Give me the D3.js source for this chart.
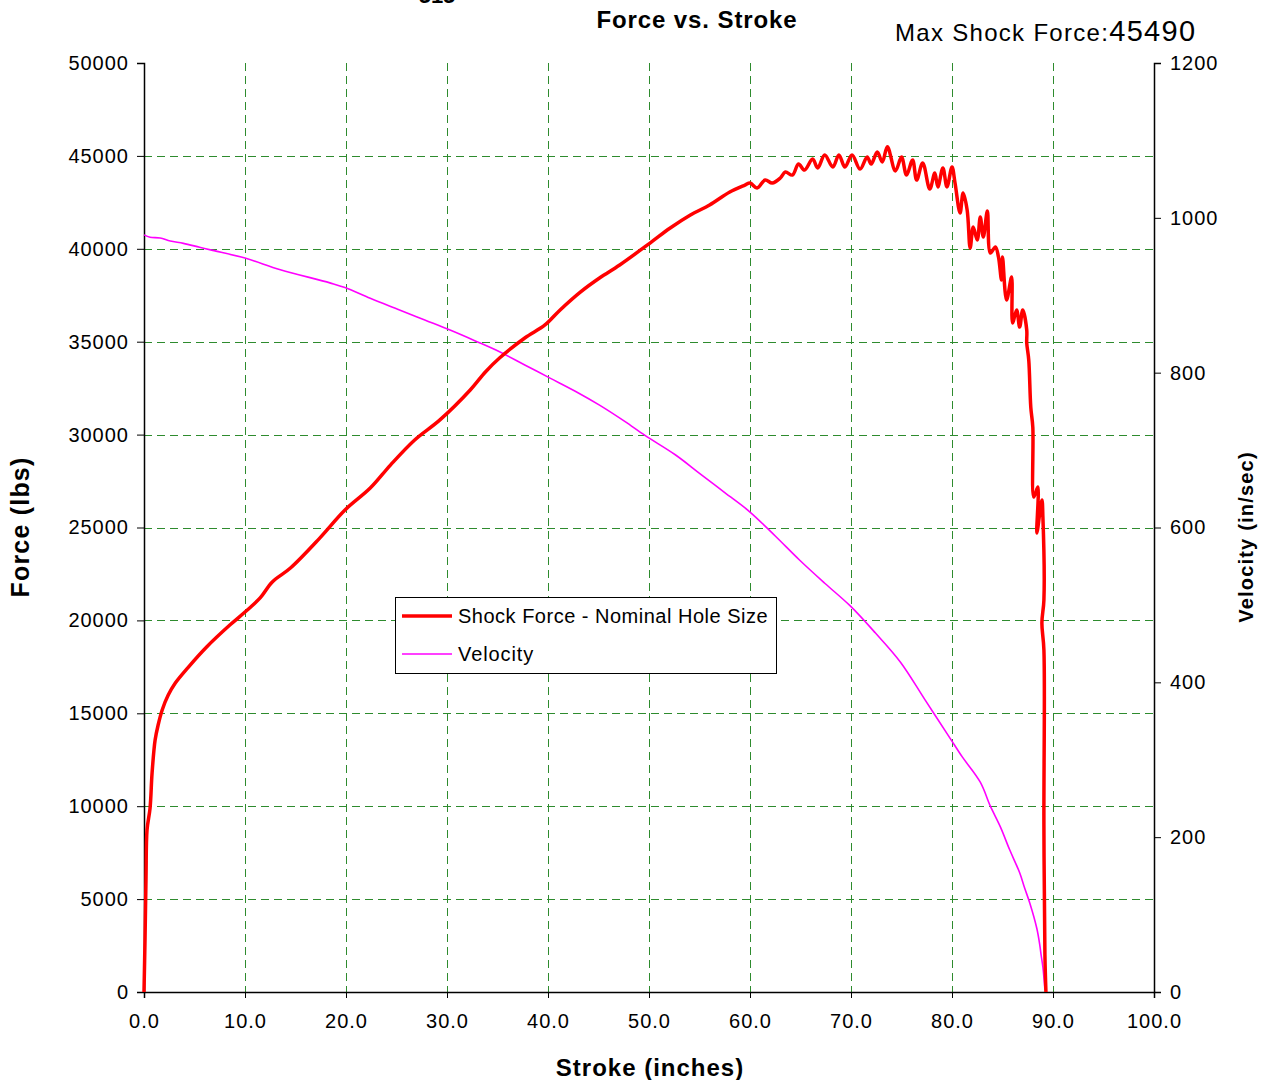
<!DOCTYPE html>
<html>
<head>
<meta charset="utf-8">
<script src="https://cdn.jsdelivr.net/npm/d3@7"></script>
<style>
  body { margin: 0; background: #fff; }
  svg { font-family: 'Liberation Sans', Arial, sans-serif; }
</style>
</head>
<body>
<div id="chart"></div>
<script>
'use strict';

// stroke (inches) / shock force (lbs)
var forceStroke = [0, 0.1, 0.2, 0.3, 0.6, 0.8, 1.1, 1.4, 1.8, 2.4, 3.1, 4.4, 6.2, 8.5, 10.0,
  11.5, 12.7, 14.5, 17.4, 19.9, 22.4, 24.4, 26.8, 29.3, 32.3, 33.8, 35.2, 37.7, 39.7, 41.2, 43.2,
  45.1, 47.1, 50.1, 52.1, 54.1, 56.0, 58.0, 59.5, 60.0, 60.7, 61.5, 62.2, 63.0, 63.5, 64.2, 64.8, 65.4, 66.2, 66.7,
  67.4, 68.2, 68.8, 69.4, 70.1, 70.9, 71.6, 72.0, 72.6, 73.1, 73.6, 74.4, 75.0, 75.5, 76.1, 76.5,
  77.1, 77.8, 78.3, 78.6, 79.1, 79.5, 80.0, 80.3, 80.8, 81.1, 81.5, 81.8, 82.1, 82.5, 82.8, 83.1,
  83.5, 83.8, 84.3, 84.6, 84.9, 85.0, 85.4, 85.9, 86.0, 86.4, 86.7, 87.0, 87.4, 87.4, 87.6, 87.8,
  88.0, 88.1, 88.5, 88.4, 88.9, 89.0, 89.1, 88.9, 89.1, 89.1, 89.2, 89.3];
var forceValues = [0, 2800, 6190, 8720, 9900, 11790, 13560, 14370, 15180, 15980, 16630, 17490, 18570, 19750, 20450,
  21210, 22070, 22820, 24430, 25940, 27120, 28360, 29710, 30790, 32400, 33370, 34120, 35200, 35900, 36710, 37670,
  38430, 39130, 40310, 41120, 41820, 42360, 43060, 43430, 43540, 43270, 43700, 43540, 43810, 44130, 43970, 44560, 44240, 44830, 44350,
  45050, 44400, 45050, 44400, 45050, 44290, 44940, 44560, 45210, 44670, 45490, 44190, 44940, 43970, 44780, 43700,
  44620, 43220, 44080, 43330, 44350, 43330, 44400, 43540, 41930, 43000, 42090, 40040, 41170, 40470, 41710, 40630,
  42030, 39770, 40100, 39560, 38320, 39560, 37240, 38480, 36010, 36710, 35790, 36710, 35630, 34930, 34010, 31480,
  30410, 26640, 27180, 24700, 26480, 25560, 21100, 19860, 18410, 9000, 2000, 0];

// stroke (inches) / velocity (in/sec)
var velStroke = [0, 0.6, 1.6, 2.6, 3.9, 5.5, 6.8, 10.0, 13.5, 18.4, 19.9, 22.4, 25.3, 27.8, 30.3, 32.8,
  35.2, 37.7, 40.2, 42.7, 45.1, 47.6, 49.6, 52.6, 55.0, 57.5, 60.0, 62.5, 64.9, 67.4, 69.9, 72.4,
  74.9, 77.3, 79.8, 81.0, 82.8, 83.8, 84.8, 85.7, 86.7, 87.2, 87.7, 88.4, 88.7, 88.8, 89.0, 89.2];
var velValues = [978, 975, 974, 970, 967, 962, 958, 948, 933, 916, 910, 896, 881, 868, 855, 841,
  827, 810, 793, 776, 758, 737, 719, 694, 670, 645, 620, 589, 558, 528, 499, 464,
  426, 378, 328, 304, 271, 240, 213, 184, 154, 134, 115, 82, 60, 50, 32, 3];

var xTicks = [0, 10, 20, 30, 40, 50, 60, 70, 80, 90, 100];
var yTicks = [0, 5000, 10000, 15000, 20000, 25000, 30000, 35000, 40000, 45000, 50000];
var y2Ticks = [0, 200, 400, 600, 800, 1000, 1200];
var maxForce = 45490;

var width = 1263, height = 1080;
var plotLeft = 144, plotRight = 1154, plotTop = 63, plotBottom = 992;

var svg = d3.select('#chart').append('svg')
  .attr('width', width)
  .attr('height', height);

var x = d3.scaleLinear().domain([0, 100]).range([plotLeft, plotRight]);
var y = d3.scaleLinear().domain([0, 50000]).range([plotBottom, plotTop]);
var y2 = d3.scaleLinear().domain([0, 1200]).range([plotBottom, plotTop]);

// grid
var grid = svg.append('g')
  .attr('stroke', '#2e8b2e')
  .attr('stroke-width', 1)
  .attr('stroke-dasharray', '8,5');

grid.selectAll('line.h')
  .data(yTicks.filter(function(d) { return d > 0 && d < 50000; }))
  .enter()
  .append('line')
  .attr('class', 'h')
  .attr('x1', plotLeft)
  .attr('x2', plotRight)
  .attr('y1', function(d) { return Math.round(y(d)) + 0.5; })
  .attr('y2', function(d) { return Math.round(y(d)) + 0.5; });

grid.selectAll('line.v')
  .data(xTicks.filter(function(d) { return d > 0 && d < 100; }))
  .enter()
  .append('line')
  .attr('class', 'v')
  .attr('y1', plotTop)
  .attr('y2', plotBottom)
  .attr('x1', function(d) { return Math.round(x(d)) + 0.5; })
  .attr('x2', function(d) { return Math.round(x(d)) + 0.5; });

// axes
var xAxis = svg.append('g')
  .attr('transform', 'translate(0,' + plotBottom + ')')
  .call(d3.axisBottom(x).tickValues(xTicks).tickFormat(d3.format('.1f')).tickSizeOuter(0).tickSize(6).tickPadding(16));

var yAxis = svg.append('g')
  .attr('transform', 'translate(' + plotLeft + ',0)')
  .call(d3.axisLeft(y).tickValues(yTicks).tickFormat(d3.format('d')).tickSizeOuter(0).tickSize(7).tickPadding(9));

var y2Axis = svg.append('g')
  .attr('transform', 'translate(' + plotRight + ',0)')
  .call(d3.axisRight(y2).tickValues(y2Ticks).tickFormat(d3.format('d')).tickSizeOuter(0).tickSize(7).tickPadding(9));

[xAxis, yAxis, y2Axis].forEach(function(a) {
  a.selectAll('text')
    .attr('font-size', '20px')
    .attr('letter-spacing', '1px')
    .attr('font-family', "'Liberation Sans', Arial, sans-serif")
    .attr('fill', '#000');
  a.selectAll('line').attr('stroke', '#000');
  a.select('.domain').attr('stroke', '#000').attr('stroke-width', 1.5);
});
yAxis.selectAll('text').attr('dx', '1px');

// series
var velLine = d3.line()
  .x(function(d, i) { return x(velStroke[i]); })
  .y(function(d) { return y2(d); })
  .curve(d3.curveCatmullRom.alpha(0.5));

var forceLine = d3.line()
  .x(function(d, i) { return x(forceStroke[i]); })
  .y(function(d) { return y(d); })
  .curve(d3.curveCatmullRom.alpha(0.5));

svg.append('path')
  .attr('d', velLine(velValues))
  .attr('fill', 'none')
  .attr('stroke', '#ff00ff')
  .attr('stroke-width', 1.6);

svg.append('path')
  .attr('d', forceLine(forceValues))
  .attr('fill', 'none')
  .attr('stroke', '#ff0000')
  .attr('stroke-width', 3.5)
  .attr('stroke-linejoin', 'round');

// titles
svg.append('text')
  .attr('x', 437)
  .attr('y', 3)
  .attr('text-anchor', 'middle')
  .attr('font-size', '22px')
  .attr('font-weight', 'bold')
  .text('515');

svg.append('text')
  .attr('x', 697)
  .attr('y', 28)
  .attr('text-anchor', 'middle')
  .attr('font-size', '24px')
  .attr('letter-spacing', '0.9px')
  .attr('font-weight', 'bold')
  .text('Force vs. Stroke');

var maxText = svg.append('text')
  .attr('x', 895)
  .attr('y', 41)
  .attr('letter-spacing', '1.3px');
maxText.append('tspan').attr('font-size', '24px').text('Max Shock Force:');
maxText.append('tspan').attr('font-size', '29px').text(maxForce);

svg.append('text')
  .attr('x', 650)
  .attr('y', 1076)
  .attr('text-anchor', 'middle')
  .attr('font-size', '24px')
  .attr('letter-spacing', '1px')
  .attr('font-weight', 'bold')
  .text('Stroke (inches)');

svg.append('text')
  .attr('transform', 'translate(29,527) rotate(-90)')
  .attr('text-anchor', 'middle')
  .attr('font-size', '25px')
  .attr('letter-spacing', '1.2px')
  .attr('font-weight', 'bold')
  .text('Force (lbs)');

svg.append('text')
  .attr('transform', 'translate(1253,537) rotate(-90)')
  .attr('text-anchor', 'middle')
  .attr('font-size', '20px')
  .attr('letter-spacing', '1.2px')
  .attr('font-weight', 'bold')
  .text('Velocity (in/sec)');

// legend
var legend = svg.append('g');
legend.append('rect')
  .attr('x', 395.5)
  .attr('y', 597.5)
  .attr('width', 381)
  .attr('height', 76)
  .attr('fill', '#fff')
  .attr('stroke', '#000');

legend.append('line')
  .attr('x1', 402).attr('x2', 452)
  .attr('y1', 616).attr('y2', 616)
  .attr('stroke', '#ff0000').attr('stroke-width', 3.5);
legend.append('line')
  .attr('x1', 402).attr('x2', 452)
  .attr('y1', 654).attr('y2', 654)
  .attr('stroke', '#ff00ff').attr('stroke-width', 1.6);

legend.append('text')
  .attr('x', 458).attr('y', 623)
  .attr('font-size', '20px')
  .attr('letter-spacing', '0.5px')
  .text('Shock Force - Nominal Hole Size');
legend.append('text')
  .attr('x', 458).attr('y', 661)
  .attr('font-size', '20px')
  .attr('letter-spacing', '0.9px')
  .text('Velocity');
</script>
</body>
</html>
